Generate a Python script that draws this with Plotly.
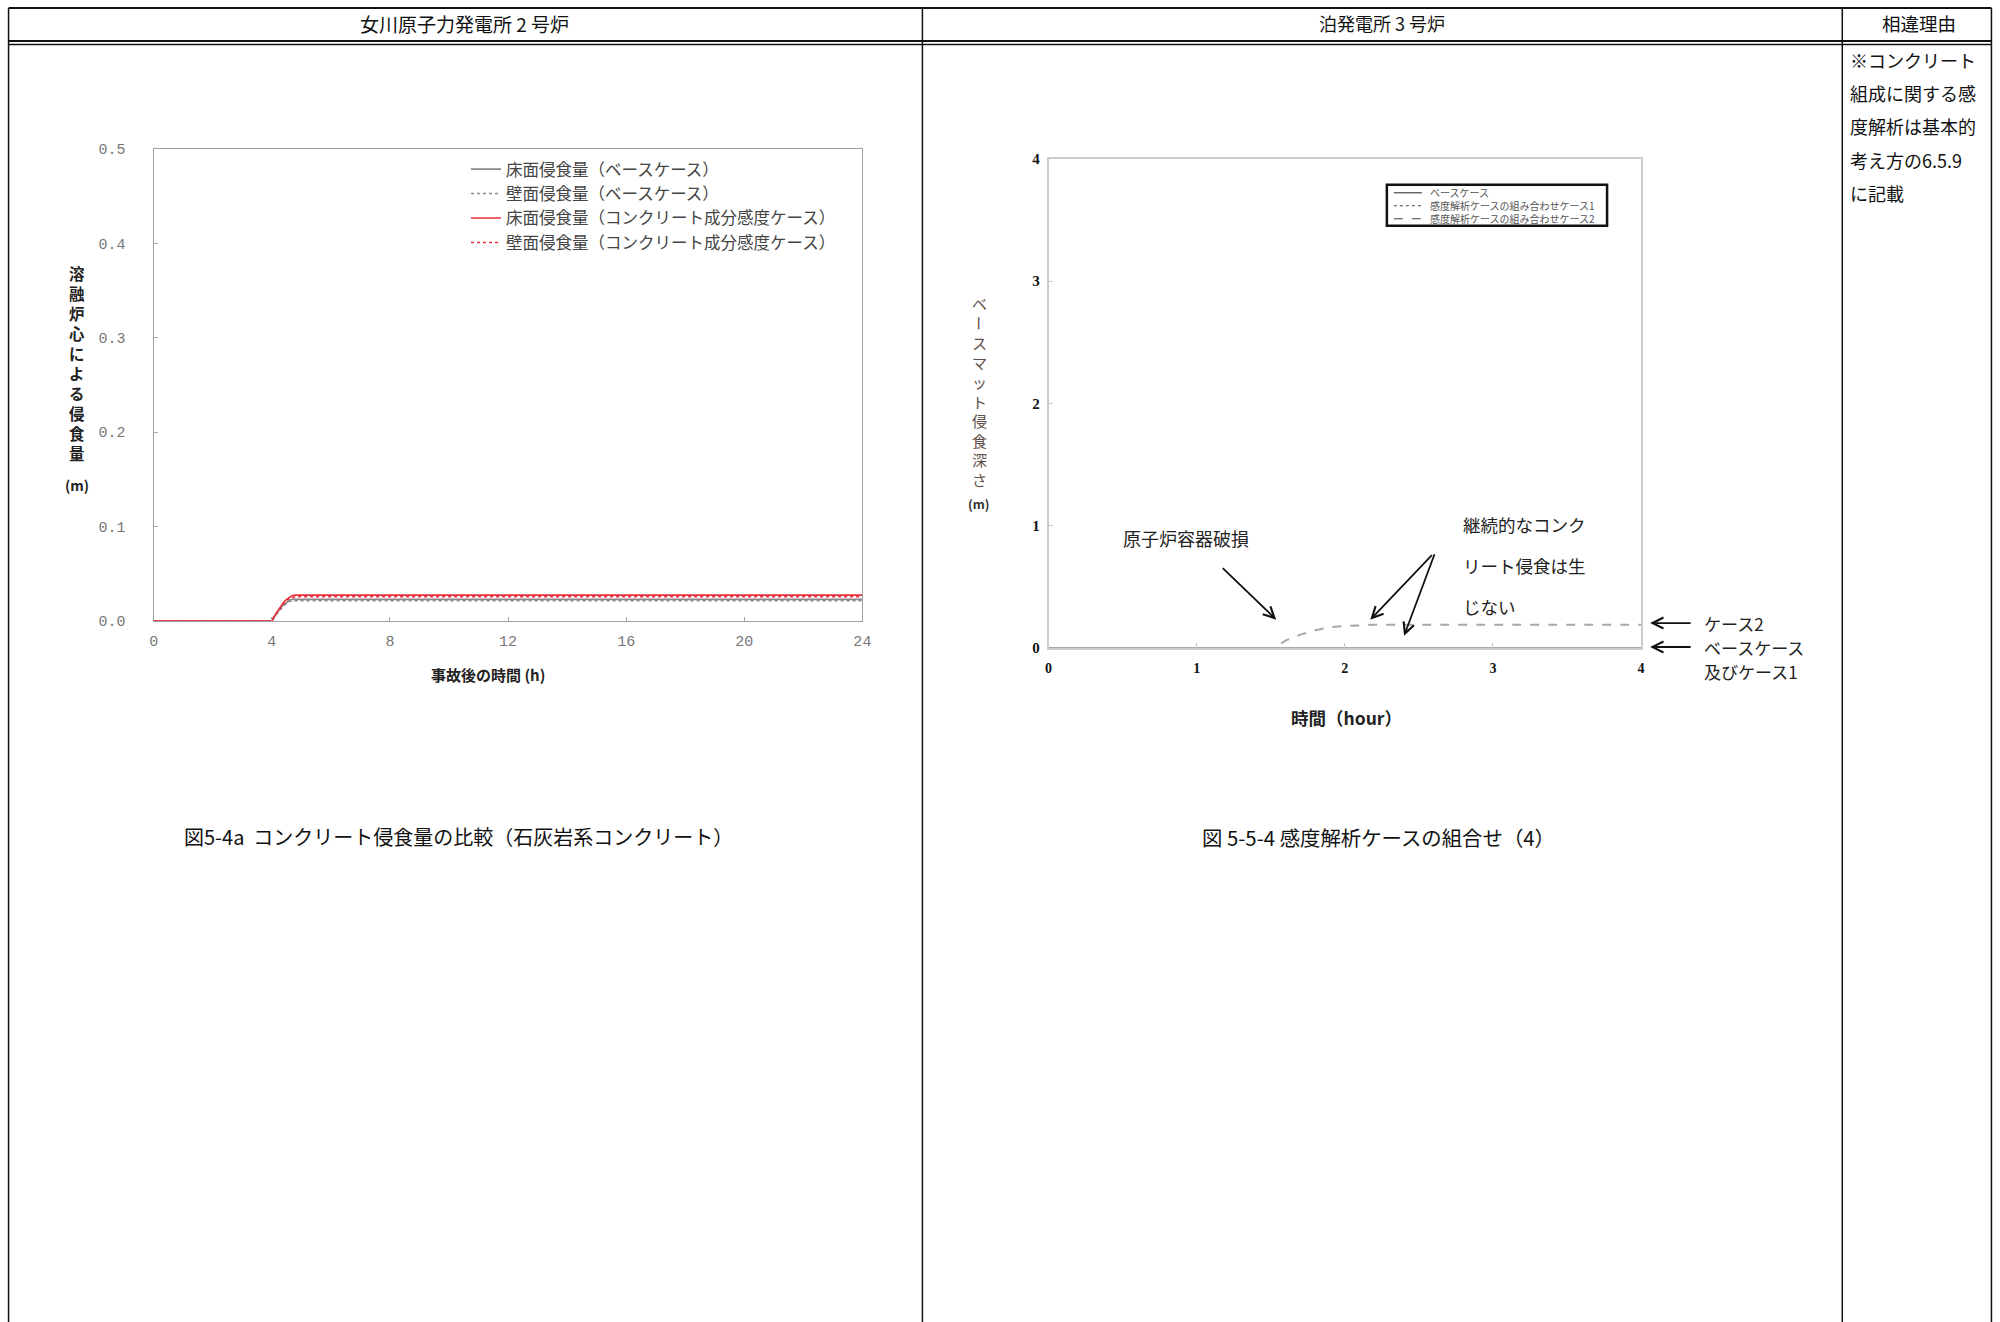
import plotly.graph_objects as go

W, H = 2000, 1322
JP = "Noto Sans CJK JP"

# Layout positions below are written in page pixels of the finished page.
# The figure sits inside the body's default 8px margin and the page is shown
# at 2000/2016 x 1322/1338, so page pixels are mapped back to figure pixels.
BODY = 8
SX, SY = W / (W + 2 * BODY), H / (H + 2 * BODY)
NUDGE_X = 2.5


def fx(x):
    return (x + NUDGE_X) / SX - BODY


def fy(y):
    return y / SY - BODY


def px(x):
    return fx(x) / W


def py(y):
    return 1 - fy(y) / H


# ---- Onagawa unit 2: ablation depth by molten core (m) vs hours after accident
onagawa_time = [0, 4.0, 4.1, 4.2, 4.3, 4.4, 4.5, 4.6, 4.7, 4.8, 24]
floor_base = [0, 0, 0.005, 0.010, 0.014, 0.017, 0.020, 0.022, 0.023, 0.023, 0.023]
wall_base = [0, 0, 0.005, 0.009, 0.013, 0.016, 0.019, 0.021, 0.021, 0.0215, 0.0215]
floor_sens = [0, 0, 0.006, 0.011, 0.016, 0.020, 0.023, 0.025, 0.027, 0.0275, 0.0275]
wall_sens = [0, 0, 0.006, 0.010, 0.015, 0.019, 0.022, 0.024, 0.025, 0.0257, 0.0257]
onagawa_names = [
    "床面侵食量（ベースケース）",
    "壁面侵食量（ベースケース）",
    "床面侵食量（コンクリート成分感度ケース）",
    "壁面侵食量（コンクリート成分感度ケース）",
]
onagawa_xticks = [0, 4, 8, 12, 16, 20, 24]
onagawa_yticks = [0.0, 0.1, 0.2, 0.3, 0.4, 0.5]

# ---- Tomari unit 3: basemat ablation depth (m) vs time (hour)
tomari_time_base = [0, 4]
base_case = [0, 0]
case1 = [0, 0]
tomari_time_case2 = [0, 1.52, 1.6, 1.7, 1.8, 1.9, 2.0, 2.2, 4.0]
case2 = [0, 0, 0.06, 0.11, 0.145, 0.17, 0.18, 0.19, 0.19]
tomari_names = [
    "ベースケース",
    "感度解析ケースの組み合わせケース1",
    "感度解析ケースの組み合わせケース2",
]
tomari_ticks = [0, 1, 2, 3, 4]

GRAY = "#8a8a8a"
RED = "#e8313a"

fig = go.Figure()

onagawa_series = [floor_base, wall_base, floor_sens, wall_sens]
onagawa_styles = [(GRAY, "solid"), (GRAY, "dot"), (RED, "solid"), (RED, "dot")]
for i, (vals, (col, dash)) in enumerate(zip(onagawa_series, onagawa_styles)):
    fig.add_trace(go.Scatter(
        x=onagawa_time, y=vals, mode="lines", name=onagawa_names[i],
        legendgroup=f"g{i}",
        line=dict(color=col, width=1.6, dash=dash),
        xaxis="x", yaxis="y", cliponaxis=False,
    ))

tomari_series = [(tomari_time_base, base_case, "solid"),
                 (tomari_time_base, case1, "dot"),
                 (tomari_time_case2, case2, "dash")]
for i, (t, vals, dash) in enumerate(tomari_series):
    fig.add_trace(go.Scatter(
        x=t, y=vals, mode="lines", name=tomari_names[i], showlegend=False,
        line=dict(color="#a8a8a8", width=2, dash=dash),
        xaxis="x2", yaxis="y2", cliponaxis=False,
    ))

axis_common = dict(showgrid=False, zeroline=False, showline=True, mirror=True,
                   ticks="inside", fixedrange=True)

fig.update_layout(
    width=W, height=H,
    margin=dict(l=0, r=0, t=0, b=0),
    paper_bgcolor="white", plot_bgcolor="white",
    xaxis=dict(domain=[px(154), px(862)], range=[0, 24], anchor="y",
               tickvals=onagawa_xticks, ticklen=4, tickcolor="#aaa",
               linecolor="#a0a0a0", linewidth=1.3,
               tickfont=dict(family="Liberation Mono", size=15, color="#777"),
               ticklabelstandoff=6, **axis_common),
    yaxis=dict(domain=[py(622), py(149)], range=[0, 0.5], anchor="x",
               tickvals=onagawa_yticks, tickformat=".1f", ticklen=4, tickcolor="#aaa",
               linecolor="#a0a0a0", linewidth=1.3,
               tickfont=dict(family="Liberation Mono", size=15, color="#777"),
               ticklabelstandoff=24, **axis_common),
    xaxis2=dict(domain=[px(1048), px(1640)], range=[0, 4], anchor="y2",
                tickvals=tomari_ticks, ticklen=5, tickcolor="#c8c8c8",
                linecolor="#cccccc", linewidth=1.6,
                tickfont=dict(family="Liberation Serif", size=14, color="#111", weight="bold"),
                ticklabelstandoff=6, **axis_common),
    yaxis2=dict(domain=[py(649), py(159)], range=[0, 4], anchor="x2",
                tickvals=tomari_ticks, ticklen=5, tickcolor="#c8c8c8",
                linecolor="#cccccc", linewidth=1.6,
                tickfont=dict(family="Liberation Serif", size=15, color="#111", weight="bold"),
                ticklabelstandoff=4, **axis_common),
    legend=dict(x=px(466), y=py(152), xanchor="left", yanchor="top",
                bgcolor="rgba(0,0,0,0)", borderwidth=0,
                font=dict(family=JP, size=16.5, color="#444"),
                tracegroupgap=0, itemclick=False, itemdoubleclick=False),
    showlegend=True,
)

shapes = []
annotations = []


def hline(y, x0, x1, width=1.5, color="#111"):
    shapes.append(dict(type="line", xref="paper", yref="paper",
                       x0=px(x0), x1=px(x1), y0=py(y), y1=py(y),
                       line=dict(color=color, width=width)))


def vline(x, y0, y1, width=1.5, color="#111"):
    shapes.append(dict(type="line", xref="paper", yref="paper",
                       x0=px(x), x1=px(x), y0=py(y0), y1=py(y1),
                       line=dict(color=color, width=width)))


def text(s, x, y, size=16, color="#111", xanchor="center", yanchor="middle",
         weight="normal", family=JP, angle=0, align="center"):
    annotations.append(dict(text=s, x=px(x), y=py(y), xref="paper", yref="paper",
                            xanchor=xanchor, yanchor=yanchor, showarrow=False,
                            textangle=angle, align=align,
                            font=dict(family=family, size=size, color=color, weight=weight)))


# Table frame
RIGHT_EDGE = 1990
hline(8, 9, RIGHT_EDGE, width=2)
hline(41, 9, RIGHT_EDGE, width=2)
hline(44.5, 9, RIGHT_EDGE, width=1.5)
for xv in (9, 922, 1841, RIGHT_EDGE):
    vline(xv, 8, 1330, width=1.5)

# Table headers
text("女川原子力発電所 2 号炉", 465, 23, size=19)
text("泊発電所 3 号炉", 1381, 23, size=18)
text("相違理由", 1918, 23, size=18.5)

# Reason column
reason_lines = ["※コンクリート", "組成に関する感", "度解析は基本的", "考え方の6.5.9", "に記載"]
for i, line in enumerate(reason_lines):
    text(line, 1847, 60 + 33.3 * i, size=18, xanchor="left")

# Captions
text("図5-4a  コンクリート侵食量の比較（石灰岩系コンクリート）", 459, 838, size=20)
text("図 5-5-4 感度解析ケースの組合せ（4）", 1378, 838, size=20.4)

# Onagawa axis titles (vertical writing, one character per line)
text("<br>".join("溶融炉心による侵食量"), 77, 364, size=15.4, weight="bold", color="#222")
text("(m)", 77, 486, size=14, weight="bold", color="#222")
text("事故後の時間 (h)", 488, 676, size=15, weight="bold", color="#222")

# Tomari axis titles (vertical writing; the long-vowel mark turns upright)
YT_COLOR = "#5e5048"
text("ベ", 979, 304, size=15, color=YT_COLOR)
text("ー", 979, 323.6, size=15, color=YT_COLOR, angle=90)
text("<br>".join("スマット侵食深さ"), 979, 343.2 + 19.5 * 3.5, size=15, color=YT_COLOR)
text("(m)", 979, 504, size=12.5, weight="bold", color="#333")
text("時間（hour）", 1346, 719, size=17.5, weight="bold", color="#222")

# Tomari legend box
shapes.append(dict(type="rect", xref="paper", yref="paper",
                   x0=px(1386), x1=px(1606), y0=py(185), y1=py(226),
                   line=dict(color="#111", width=2.5), fillcolor="white"))
for i, dash in enumerate(["solid", "dot", "dash"]):
    yy = 193 + 13 * i
    shapes.append(dict(type="line", xref="paper", yref="paper",
                       x0=px(1393), x1=px(1421), y0=py(yy), y1=py(yy),
                       line=dict(color="#444", width=1.2, dash=dash)))
text("<br>".join(tomari_names), 1427, 206, size=10, color="#555",
     xanchor="left", align="left")

# Tomari annotations inside the plot
text("原子炉容器破損", 1185, 539, size=18, color="#222")
for i, line in enumerate(["継続的なコンク", "リート侵食は生", "じない"]):
    text(line, 1460, 525 + 41 * i, size=17.5, color="#222", xanchor="left")

arrow_style = dict(showarrow=True, arrowhead=5, arrowsize=1.2, arrowwidth=1.8,
                   arrowcolor="#111", text="", standoff=0)
annotations.append(dict(x=1.537, y=0.232, xref="x2", yref="y2", ax=-55, ay=-53, **arrow_style))
annotations.append(dict(x=2.172, y=0.232, xref="x2", yref="y2", ax=63, ay=-66, **arrow_style))
annotations.append(dict(x=2.40, y=0.10, xref="x2", yref="y2", ax=31, ay=-83, **arrow_style))

# Case labels to the right of the Tomari plot
annotations.append(dict(x=px(1649), y=py(624), xref="paper", yref="paper", ax=42, ay=0, **arrow_style))
annotations.append(dict(x=px(1649), y=py(648), xref="paper", yref="paper", ax=42, ay=0, **arrow_style))
text("ケース2", 1701, 624, size=17, color="#222", xanchor="left")
text("ベースケース", 1701, 648.5, size=17, color="#222", xanchor="left")
text("及びケース1", 1701, 673, size=17, color="#222", xanchor="left")

fig.update_layout(shapes=shapes, annotations=annotations)

fig.write_html("out.html", config={"displayModeBar": False})
